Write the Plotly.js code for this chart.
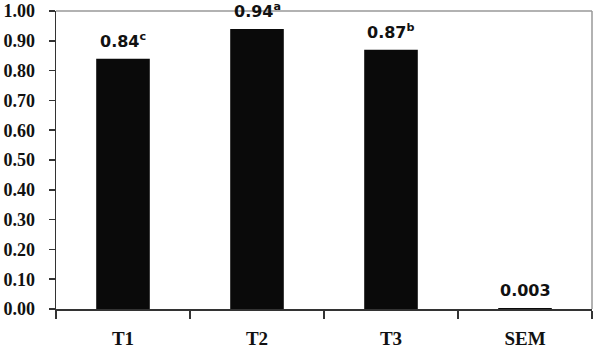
<!DOCTYPE html>
<html>
<head>
<meta charset="utf-8">
<script src="https://cdn.plot.ly/plotly-3.0.1.min.js"></script>
<style>html,body{margin:0;padding:0;background:#fff;}#chart{width:595px;height:348px;}</style>
</head>
<body>
<div id="chart"></div>
<script>
const categories = ["T1", "T2", "T3", "SEM"];
const values = [0.84, 0.94, 0.87, 0.003];
const valueLabels = ["0.84<sup>c</sup>", "0.94<sup>a</sup>", "0.87<sup>b</sup>", "0.003"];
const yTickVals = [0, 0.1, 0.2, 0.3, 0.4, 0.5, 0.6, 0.7, 0.8, 0.9, 1.0];
const yTickText = ["0.00", "0.10", "0.20", "0.30", "0.40", "0.50", "0.60", "0.70", "0.80", "0.90", "1.00"];

const serif = "Liberation Serif, Times New Roman, serif";

const trace = {
  type: "bar",
  x: categories,
  y: values,
  marker: {color: "#0a0a0a", line: {width: 0}},
  hoverinfo: "none"
};

const annotations = categories.map((c, i) => ({
  x: c, y: values[i], xref: "x", yref: "y",
  text: valueLabels[i],
  showarrow: false,
  yanchor: "bottom",
  yshift: 6,
  font: {family: "DejaVu Sans", size: 16, color: "#111", weight: "bold"}
}));

const layout = {
  width: 595, height: 348,
  margin: {l: 56, r: 3, t: 11, b: 39},
  paper_bgcolor: "#fff",
  plot_bgcolor: "#fff",
  showlegend: false,
  bargap: 0.6,
  xaxis: {
    type: "category",
    showline: true, linecolor: "#333", linewidth: 1.5,
    ticks: "outside", ticklen: 8, tickcolor: "#333", tickwidth: 1.5,
    tickson: "boundaries",
    showgrid: false, zeroline: false,
    ticklabelstandoff: 12,
    tickfont: {family: serif, size: 19, color: "#111", weight: "bold"}
  },
  yaxis: {
    range: [0, 1.0],
    tickvals: yTickVals, ticktext: yTickText,
    showline: true, linecolor: "#333", linewidth: 1.5,
    ticks: "outside", ticklen: 6, tickcolor: "#333", tickwidth: 1.5,
    showgrid: false, zeroline: false,
    ticklabelstandoff: 10,
    tickfont: {family: serif, size: 18, color: "#111", weight: "bold"}
  },
  shapes: [
    {type: "line", xref: "paper", yref: "paper", x0: 0, x1: 1, y0: 1, y1: 1, line: {color: "#999", width: 1.5}},
    {type: "line", xref: "paper", yref: "paper", x0: 1, x1: 1, y0: 0, y1: 1, line: {color: "#999", width: 1.5}}
  ],
  annotations: annotations
};

Plotly.newPlot("chart", [trace], layout, {staticPlot: true, displayModeBar: false});
</script>
</body>
</html>
